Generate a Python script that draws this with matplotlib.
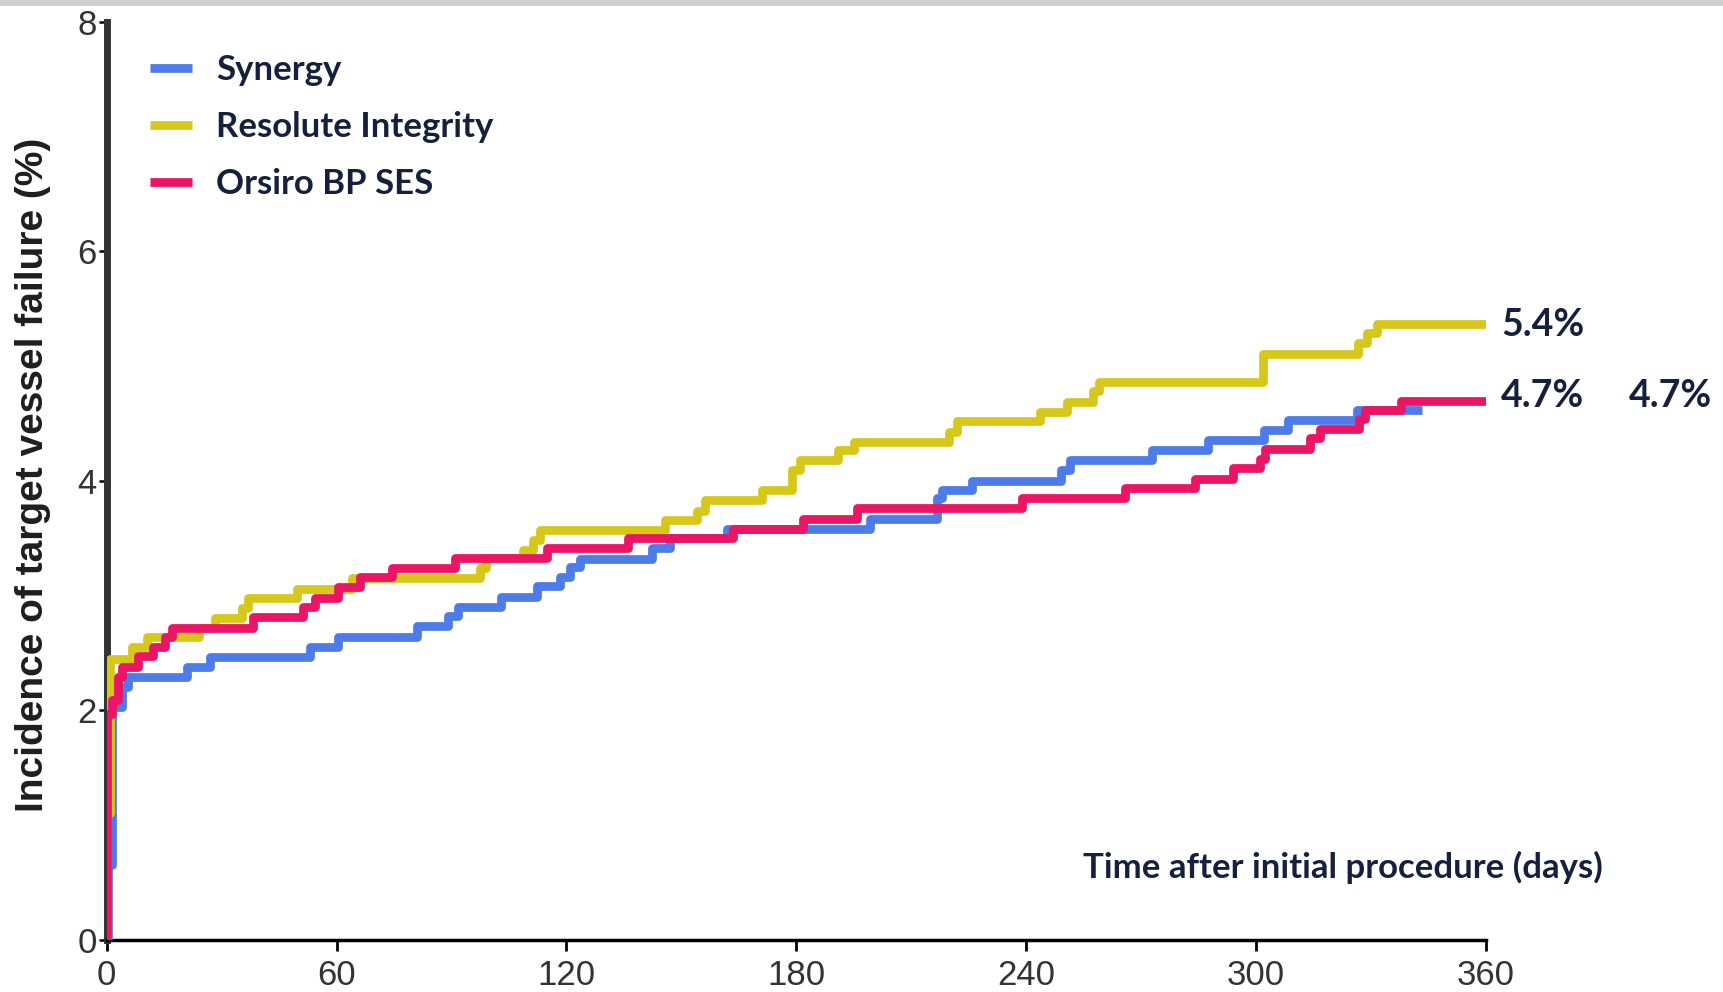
import matplotlib
matplotlib.use('Agg')
import matplotlib.pyplot as plt
from matplotlib.patches import Rectangle

# cumulative incidence (%), step 'post'
syn_t = [0, 0.3, 1.5, 4.0, 5.5, 20.9, 27.0, 53.1, 60.5, 81.0, 89.2, 91.8, 103.0, 112.3, 118.3, 121.0,
         123.6, 142.3, 147.0, 162.0, 199.3, 216.7, 218.0, 226.0, 249.0, 251.5, 273.0, 287.6, 302.0,
         308.4, 326.3, 343.3]
syn_v = [0, 0.65, 2.03, 2.20, 2.29, 2.38, 2.46, 2.55, 2.64, 2.73, 2.82, 2.90, 2.99, 3.08, 3.16, 3.25,
         3.32, 3.41, 3.50, 3.58, 3.67, 3.85, 3.92, 4.00, 4.09, 4.18, 4.27, 4.36, 4.44,
         4.53, 4.62, 4.62]

res_t = [0, 0.1, 1.0, 6.5, 10.5, 24.0, 28.3, 35.3, 37.0, 49.6, 64.0, 97.5, 99.0, 108.8, 111.4, 113.0,
         145.8, 154.0, 156.2, 171.0, 179.0, 181.0, 191.0, 195.0, 220.0, 222.0, 243.6, 250.6, 257.5,
         259.0, 301.9, 326.6, 329.0, 331.5, 360]
res_v = [0, 1.1, 2.45, 2.55, 2.64, 2.72, 2.80, 2.89, 2.98, 3.06, 3.15, 3.24, 3.33, 3.40, 3.48, 3.57,
         3.66, 3.74, 3.83, 3.92, 4.09, 4.18, 4.27, 4.34, 4.43, 4.52, 4.60, 4.69, 4.78,
         4.86, 5.11, 5.20, 5.29, 5.37, 5.37]

ors_t = [0, 0, 1.5, 3.0, 4.0, 8.3, 12.2, 15.2, 17.0, 38.3, 51.3, 54.4, 60.5, 66.1, 74.4, 91.0, 114.9,
         136.2, 163.6, 181.8, 195.8, 238.9, 265.8, 284.0, 294.0, 301.0, 302.5, 314.0, 316.7, 327.0,
         328.5, 338.0, 360]
ors_v = [0, 1.97, 2.09, 2.29, 2.38, 2.47, 2.55, 2.64, 2.72, 2.81, 2.90, 2.98, 3.07, 3.16, 3.24, 3.33, 3.41,
         3.50, 3.58, 3.67, 3.76, 3.85, 3.94, 4.02, 4.11, 4.19, 4.28, 4.37, 4.45, 4.54,
         4.62, 4.70, 4.70]

names = ['Synergy', 'Resolute Integrity', 'Orsiro BP SES']
colors = ['#4d7be8', '#d6c81a', '#ec1464']
end_labels = ['5.4%', '4.7%', '4.7%']

xticks = [0, 60, 120, 180, 240, 300, 360]
yticks = [0, 2, 4, 6, 8]

navy = '#15203d'
bold_font = ['Lato', 'Open Sans', 'DejaVu Sans']
tick_font = ['Liberation Sans Narrow', 'Liberation Sans']

fig = plt.figure(figsize=(17.23, 9.92), dpi=100)
ax = fig.add_axes([0.0619, 0.0528, 0.8004, 0.925])

series = [(syn_t, syn_v), (res_t, res_v), (ors_t, ors_v)]
for (t, v), name, c in zip(series, names, colors):
    ax.step(t, v, where='post', color=c, lw=6.3, label=name, zorder=3, solid_capstyle='butt')

ax.set_xlim(0, 360)
ax.set_ylim(0, 8)
ax.set_xticks(xticks)
ax.set_yticks(yticks)

for s in ['top', 'right']:
    ax.spines[s].set_visible(False)
ax.spines['left'].set_color('#333333')
ax.spines['left'].set_linewidth(5)
ax.spines['bottom'].set_color('black')
ax.spines['bottom'].set_linewidth(2.5)

ax.tick_params(axis='y', direction='out', length=6, width=1.8, pad=1, colors='black',
               labelcolor='#333333', labelsize=25)
ax.tick_params(axis='x', direction='out', length=8, width=2, pad=6, colors='black',
               labelcolor='#333333', labelsize=25)
for lab in ax.get_xticklabels() + ax.get_yticklabels():
    lab.set_family(tick_font)

fig.text(33 / 1723, 1 - 475 / 992, 'Incidence of target vessel failure (%)', rotation=90,
         fontsize=28, fontweight='bold', family='Liberation Sans', color='#1e1e1e',
         ha='center', va='center')

ax.set_xlabel('Time after initial procedure (days)', fontsize=25, fontweight='bold',
              family=bold_font, color=navy)
ax.xaxis.set_label_coords(0.8965, 0.079)
ax.xaxis.label.set_va('center')

leg = ax.legend(loc='upper left', bbox_to_anchor=(0.0315, 0.965), frameon=False,
                borderpad=0, borderaxespad=0, handlelength=1.2, handletextpad=0.7,
                labelspacing=0.72, prop={'family': bold_font, 'weight': 'bold', 'size': 25})
for txt in leg.get_texts():
    txt.set_color(navy)

# end-of-curve percentages
ax.text(364, 5.36, end_labels[0], fontsize=27, fontweight='bold', family=bold_font,
        color=navy, va='center', ha='left', clip_on=False)
ax.text(364, 4.74, end_labels[1], fontsize=27, fontweight='bold', family=bold_font,
        color=navy, va='center', ha='left', clip_on=False)
ax.text(397.4, 4.74, end_labels[2], fontsize=27, fontweight='bold', family=bold_font,
        color=navy, va='center', ha='left', clip_on=False)

# thin grey band along the top edge
fig.add_artist(Rectangle((0, 0.994), 1, 0.006, transform=fig.transFigure,
                         color='#cfcfcf', lw=0))

fig.savefig('out.png', dpi=100)
